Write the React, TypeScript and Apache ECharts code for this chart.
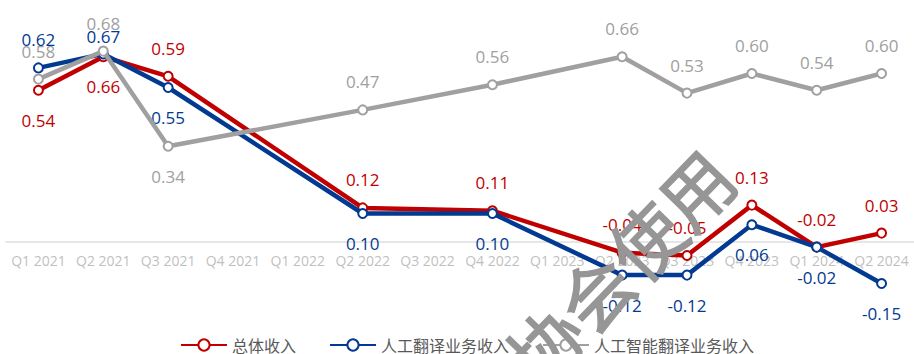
import React, { useEffect, useRef } from "react";
import * as echarts from "echarts";

const categories = [
  "Q1 2021", "Q2 2021", "Q3 2021", "Q4 2021", "Q1 2022", "Q2 2022", "Q3 2022",
  "Q4 2022", "Q1 2023", "Q2 2023", "Q3 2023", "Q4 2023", "Q1 2024", "Q2 2024",
];
const totalRevenue = [0.54, 0.66, 0.59, null, null, 0.12, null, 0.11, null, -0.04, -0.05, 0.13, -0.02, 0.03];
const humanRevenue = [0.62, 0.67, 0.55, null, null, 0.10, null, 0.10, null, -0.12, -0.12, 0.06, -0.02, -0.15];
const aiRevenue = [0.58, 0.68, 0.34, null, null, 0.47, null, 0.56, null, 0.66, 0.53, 0.60, 0.54, 0.60];
const seriesNames = ["总体收入", "人工翻译业务收入", "人工智能翻译业务收入"];
const watermarkText = "协会使用";

// label placement (style)
const totalPos = ["bottom", "bottom", "top", "", "", "top", "", "top", "", "top", "top", "top", "top", "top"];
const humanPos = ["top", "top", "bottom", "", "", "bottom", "", "bottom", "", "bottom", "bottom", "bottom", "bottom", "bottom"];
const aiPos = ["top", "top", "bottom", "", "", "top", "", "top", "", "top", "top", "top", "top", "top"];

const NUM_FONT = "'Open Sans', 'Noto Sans', sans-serif";
const CJK_FONT = "'Noto Sans CJK SC', 'Noto Sans', sans-serif";

function buildData(values: (number | null)[], pos: string[], color: string, special?: Record<number, number>) {
  return values.map((v, i) => {
    if (v === null) return null;
    const p = pos[i];
    let distance = p === "top" ? 14 : 16;
    if (special && special[i] !== undefined) distance = special[i];
    return {
      value: v,
      label: {
        show: true,
        position: p,
        distance,
        color,
        fontSize: 17,
        fontFamily: NUM_FONT,
        formatter: (prm: any) => Number(prm.value).toFixed(2),
      },
    };
  });
}

function makeSeries(name: string, values: (number | null)[], pos: string[], color: string, labelColor: string, z: number, special?: Record<number, number>) {
  return {
    name,
    type: "line",
    z,
    clip: false,
    data: buildData(values, pos, labelColor, special),
    connectNulls: true,
    symbol: "emptyCircle",
    symbolSize: 9,
    showAllSymbol: true,
    lineStyle: { color, width: 4.5 },
    itemStyle: { color, borderColor: color, borderWidth: 3 },
    emphasis: { disabled: true },
  };
}

export default function App() {
  const ref = useRef<HTMLDivElement>(null);
  useEffect(() => {
    if (!ref.current) return;
    const chart = echarts.init(ref.current, null, { renderer: "svg" });
    const red = "#C00000";
    const blue = "#023A92";
    const gray = "#A0A0A0";
    chart.setOption({
      animation: false,
      backgroundColor: "#ffffff",
      // y = 0 sits on the grid bottom (the category axis); negative values extend below it
      grid: { left: 6, right: -6, top: 45.5, bottom: 112.5 },
      xAxis: {
        type: "category",
        data: categories,
        boundaryGap: true,
        axisTick: { show: false },
        axisLine: { show: true, onZero: false, lineStyle: { color: "#E6E6E6", width: 2 } },
        axisLabel: { color: "#BFBFBF", fontSize: 14, fontFamily: NUM_FONT, margin: 12, interval: 0 },
        z: 1,
      },
      yAxis: {
        type: "value",
        min: 0,
        max: 0.7,
        show: false,
        splitLine: { show: false },
      },
      legend: {
        left: 175,
        top: 332,
        itemWidth: 46,
        itemHeight: 14,
        itemGap: 33,
        textStyle: { color: "#595959", fontSize: 16, fontFamily: CJK_FONT },
        data: seriesNames,
      },
      series: [
        makeSeries(seriesNames[0], totalRevenue, totalPos, red, red, 3),
        makeSeries(seriesNames[1], humanRevenue, humanPos, blue, blue, 4, { 1: 3 }),
        makeSeries(seriesNames[2], aiRevenue, aiPos, gray, gray, 5),
      ],
      graphic: [
        {
          type: "text",
          x: 619,
          y: 265,
          rotation: (46 * Math.PI) / 180,
          z: 100,
          silent: true,
          style: {
            text: watermarkText,
            fontSize: 72,
            fontFamily: CJK_FONT,
            fill: "rgb(150,150,150)",
            stroke: "rgb(150,150,150)",
            lineWidth: 1.5,
            align: "center",
            verticalAlign: "middle",
          },
        },
      ],
    });
    return () => chart.dispose();
  }, []);
  return <div ref={ref} style={{ position: "absolute", left: 0, top: 0, width: 914, height: 354 }} />;
}
